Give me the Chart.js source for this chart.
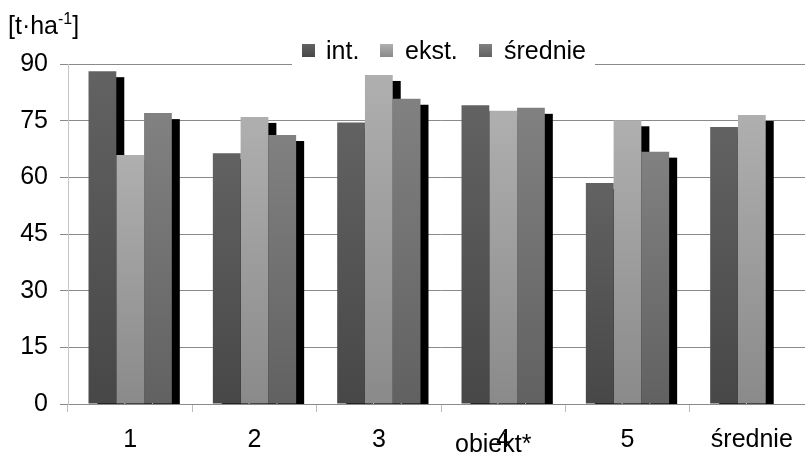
<!DOCTYPE html>
<html>
<head>
<meta charset="utf-8">
<style>
  html, body { margin: 0; padding: 0; background: #fff; overflow: hidden; }
  #wrap { width: 805px; height: 455px; overflow: hidden; }
  canvas { display: block; }
</style>
<script src="https://cdn.jsdelivr.net/npm/chart.js@4/dist/chart.umd.min.js"></script>
</head>
<body>
<div id="wrap"><canvas id="c" width="820" height="455"></canvas></div>
<script>
// Plony (t·ha⁻¹) w obiektach oraz średnie
const categories = ['1', '2', '3', '4', '5', 'średnie'];
const seriesNames = ['int.', 'ekst.', 'średnie'];
const intValues     = [88.1, 66.4, 74.5, 79.1, 58.5, 73.3];
const ekstValues    = [65.9, 76.0, 87.1, 77.6, 75.1, 76.5];
const sredniaValues = [77.0, 71.2, 80.8, 78.4, 66.8, null];
const yTicks = [0, 15, 30, 45, 60, 75, 90];

const FONT = "'Liberation Sans', Arial, sans-serif";
const FONT_SIZE = 25;
const fills = [
  ['#626262', '#474747'],
  ['#afafaf', '#8a8a8a'],
  ['#818181', '#616161']
];

function barFill(pair) {
  return (ctx) => {
    const chart = ctx.chart;
    const v = ctx.raw;
    if (!chart.chartArea || v == null) return pair[0];
    const ys = chart.scales.y;
    const g = chart.ctx.createLinearGradient(0, ys.getPixelForValue(v), 0, ys.getPixelForValue(0));
    g.addColorStop(0, pair[0]);
    g.addColorStop(1, pair[1]);
    return g;
  };
}

// black drop shadows, painted under all bars (1px white gap to the bar)
const barShadow = {
  id: 'barShadow',
  beforeDatasetsDraw(chart) {
    const c = chart.ctx;
    const a = chart.chartArea;
    c.save();
    c.beginPath();
    c.rect(a.left, a.top, a.right - a.left, a.bottom - a.top);
    c.clip();
    c.fillStyle = '#000';
    chart.data.datasets.forEach((ds, di) => {
      const meta = chart.getDatasetMeta(di);
      meta.data.forEach((el, i) => {
        if (ds.data[i] == null) return;
        const left = el.x - el.width / 2;
        const top = Math.min(el.y, el.base);
        const h = Math.abs(el.base - el.y);
        c.fillRect(left + 9, top + 6, el.width - 1, h);
      });
    });
    c.restore();
  }
};

// legend on a white box across the top gridline, plus axis titles
const decorations = {
  id: 'decorations',
  afterDraw(chart) {
    const c = chart.ctx;
    c.save();
    c.fillStyle = '#fff';
    c.fillRect(292, 36, 303, 32);

    const items = [
      { marker: 302, text: 326 },
      { marker: 380, text: 405 },
      { marker: 479, text: 504 }
    ];
    c.font = FONT_SIZE + 'px ' + FONT;
    c.textBaseline = 'alphabetic';
    c.textAlign = 'left';
    items.forEach((it, i) => {
      const g = c.createLinearGradient(0, 44, 0, 57);
      g.addColorStop(0, fills[i][0]);
      g.addColorStop(1, fills[i][1]);
      c.fillStyle = g;
      c.fillRect(it.marker, 44, 13, 13);
      c.fillStyle = '#000';
      c.fillText(seriesNames[i], it.text, 59);
    });

    // y-axis unit
    c.fillStyle = '#000';
    c.font = FONT_SIZE + 'px ' + FONT;
    let x = 8;
    c.fillText('[t·ha', x, 34);
    x += c.measureText('[t·ha').width;
    c.font = '16px ' + FONT;
    c.fillText('-1', x, 24);
    x += c.measureText('-1').width;
    c.font = FONT_SIZE + 'px ' + FONT;
    c.fillText(']', x, 34);

    // x-axis title
    c.fillText('obiekt*', 455, 452);
    c.restore();
  }
};

new Chart(document.getElementById('c'), {
  type: 'bar',
  data: {
    labels: categories,
    datasets: [
      { label: seriesNames[0], data: intValues,     backgroundColor: barFill(fills[0]) },
      { label: seriesNames[1], data: ekstValues,    backgroundColor: barFill(fills[1]) },
      { label: seriesNames[2], data: sredniaValues, backgroundColor: barFill(fills[2]) }
    ]
  },
  options: {
    responsive: false,
    animation: false,
    devicePixelRatio: 1,
    layout: { padding: { top: 64, right: 6, left: 0, bottom: 0 } },
    datasets: {
      bar: {
        categoryPercentage: 0.67,
        barPercentage: 1.0,
        borderWidth: 0,
        clip: { left: 0, top: 0, right: 0, bottom: 0 }
      }
    },
    plugins: {
      legend: { display: false },
      tooltip: { enabled: false }
    },
    scales: {
      x: {
        afterFit(scale) { scale.height = 51; },
        grid: {
          offset: true,
          drawOnChartArea: false,
          drawTicks: true,
          tickLength: 8,
          color: '#bdbdbd'
        },
        border: { color: '#8a8a8a', width: 1 },
        ticks: {
          color: '#000',
          font: { family: FONT, size: FONT_SIZE },
          padding: 13,
          maxRotation: 0,
          autoSkip: false
        }
      },
      y: {
        min: 0,
        max: 90,
        afterFit(scale) { scale.width = 68; },
        afterBuildTicks(scale) { scale.ticks = yTicks.map(v => ({ value: v })); },
        grid: {
          color: '#8a8a8a',
          drawTicks: true,
          tickLength: 8
        },
        border: { color: '#c4c4c4', width: 1 },
        ticks: {
          color: '#000',
          font: { family: FONT, size: FONT_SIZE },
          padding: 12
        }
      }
    }
  },
  plugins: [barShadow, decorations]
});
</script>
</body>
</html>
